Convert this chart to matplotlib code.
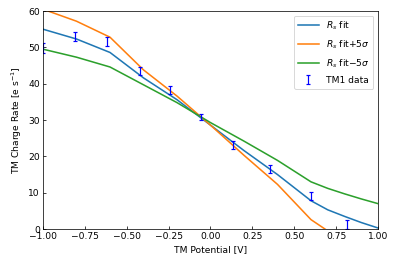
import numpy as np
import matplotlib.pyplot as plt

# fit curves sampled along the potential axis
volts = [-1.0, -0.8, -0.6, -0.4, -0.2, 0.0, 0.2, 0.4, 0.6, 0.7, 0.8, 0.9, 1.0]
rs_fit = [55.0, 52.3, 48.6, 41.6, 35.6, 28.6, 21.6, 15.0, 7.8, 5.3, 3.5, 1.8, 0.3]
rs_plus = [60.5, 57.2, 52.8, 43.8, 36.6, 28.6, 20.3, 12.3, 2.6, -0.5, -3.8, -5.5, -7.5]
rs_minus = [49.5, 47.3, 44.6, 39.7, 34.8, 29.3, 24.2, 18.9, 13.0, 11.2, 9.7, 8.3, 7.0]

# TM1 measurements
tm_v = [-1.0, -0.809, -0.618, -0.421, -0.242, -0.057, 0.136, 0.357, 0.6, 0.815]
tm_rate = [49.8, 52.9, 51.7, 43.5, 38.3, 30.8, 23.1, 16.5, 9.1, 1.3]
tm_err = [1.3, 1.2, 1.2, 1.1, 1.0, 0.9, 1.0, 1.0, 1.1, 1.2]

fig = plt.figure(figsize=(6, 3.985), dpi=66)
ax = fig.add_subplot(111)
fig.subplots_adjust(left=0.1086, right=0.9545, bottom=0.129, top=0.958)

ax.plot(volts, rs_fit, color='tab:blue', lw=1.7, label='$R_s$ fit')
ax.plot(volts, rs_plus, color='tab:orange', lw=1.7, label='$R_s$ fit+5$\\sigma$')
ax.plot(volts, rs_minus, color='tab:green', lw=1.7, label='$R_s$ fit$-$5$\\sigma$')
ax.errorbar(tm_v, tm_rate, yerr=tm_err, fmt='none', ecolor='blue', elinewidth=1.3,
            capsize=2, capthick=1.3, label='TM1 data')

ax.set_xlim(-1, 1)
ax.set_ylim(0, 60)
ax.tick_params(direction='in')
ax.set_xlabel('TM Potential [V]')
ax.set_ylabel('TM Charge Rate [e s$^{-1}$]')
ax.legend(loc='upper right', handlelength=2.3, labelspacing=0.7)

fig.savefig('out.png', dpi=66)
